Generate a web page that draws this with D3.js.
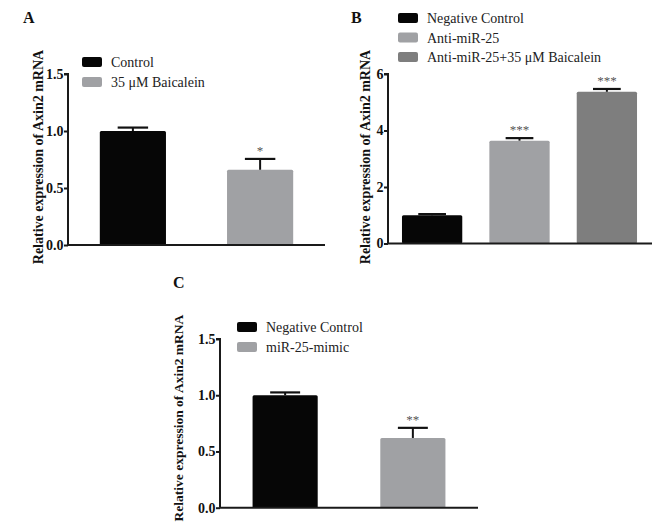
<!DOCTYPE html>
<html>
<head>
<meta charset="utf-8">
<script src="https://cdn.jsdelivr.net/npm/d3@7"></script>
<style>
  html, body { margin: 0; padding: 0; background: #fff; }
  svg { display: block; }
  text { font-family: "Liberation Serif", "Times New Roman", serif; }
</style>
</head>
<body>
<svg id="chart" width="652" height="531"></svg>
<script>
// ---------------- DATA ----------------
const yLabel = "Relative expression of Axin2 mRNA";

const aCategories = ["Control", "35 μM Baicalein"];
const aValues = [1.0, 0.66];
const aErrors = [0.03, 0.095];
const aStars = ["", "*"];
const aTicks = [0, 0.5, 1.0, 1.5];
const aTickLabels = ["0.0", "0.5", "1.0", "1.5"];

const bCategories = ["Negative Control", "Anti-miR-25", "Anti-miR-25+35 μM Baicalein"];
const bValues = [1.0, 3.64, 5.37];
const bErrors = [0.04, 0.09, 0.10];
const bStars = ["", "***", "***"];
const bTicks = [0, 2, 4, 6];
const bTickLabels = ["0", "2", "4", "6"];

const cCategories = ["Negative Control", "miR-25-mimic"];
const cValues = [1.0, 0.62];
const cErrors = [0.025, 0.09];
const cStars = ["", "**"];
const cTicks = [0, 0.5, 1.0, 1.5];
const cTickLabels = ["0.0", "0.5", "1.0", "1.5"];

const colorsA = ["#060606", "#a0a1a4"];
const colorsB = ["#060606", "#a0a1a4", "#7e7e7e"];
const colorsC = ["#060606", "#a0a1a4"];

// ---------------- DRAW ----------------
const svg = d3.select("#chart");
const SERIF = "'Liberation Serif', 'Times New Roman', serif";

function panel(cfg) {
  const g = svg.append("g").attr("font-family", SERIF);
  const x = d3.scaleBand().domain(cfg.categories)
    .range([cfg.x0, cfg.x1]).paddingInner(cfg.pi).paddingOuter(cfg.po);
  const y = d3.scaleLinear().domain(cfg.domain).range([cfg.yb, cfg.yt]);

  // bars
  g.selectAll("rect.bar").data(cfg.categories).enter().append("rect")
    .attr("class", "bar")
    .attr("x", d => x(d))
    .attr("width", x.bandwidth())
    .attr("y", (d, i) => y(cfg.values[i]))
    .attr("height", (d, i) => y(0) - y(cfg.values[i]))
    .attr("rx", 1.5)
    .attr("fill", (d, i) => cfg.colors[i]);

  // error bars (upper only)
  const capW = x.bandwidth() * 0.46;
  cfg.categories.forEach((d, i) => {
    const cx = x(d) + x.bandwidth() / 2;
    const top = y(cfg.values[i] + cfg.errors[i]);
    g.append("line").attr("x1", cx).attr("x2", cx)
      .attr("y1", y(cfg.values[i])).attr("y2", top)
      .attr("stroke", "#111").attr("stroke-width", 2);
    g.append("line").attr("x1", cx - capW / 2).attr("x2", cx + capW / 2)
      .attr("y1", top).attr("y2", top)
      .attr("stroke", "#111").attr("stroke-width", 2.2);
    if (cfg.stars[i]) {
      g.append("text").attr("x", cx).attr("y", top - 4)
        .attr("text-anchor", "middle").attr("font-size", 13)
        .attr("font-family", SERIF)
        .attr("fill", "#555").text(cfg.stars[i]);
    }
  });

  // y axis
  const yAxis = d3.axisLeft(y).tickValues(cfg.ticks)
    .tickFormat((d, i) => cfg.tickLabels[i]).tickSize(4).tickPadding(0.5);
  const ya = g.append("g").attr("transform", `translate(${cfg.x0},0)`).call(yAxis);
  ya.select(".domain").attr("d", `M-4,${cfg.yt}H0V${cfg.yb}`)
    .attr("stroke", "#1a1a1a").attr("stroke-width", 2);
  ya.selectAll(".tick line").attr("stroke", "#1a1a1a").attr("stroke-width", 2);
  ya.attr("font-family", SERIF);
  ya.selectAll(".tick text").attr("font-family", SERIF)
    .attr("font-weight", "bold").attr("font-size", 14).attr("fill", "#111");

  // x axis line
  g.append("line").attr("x1", cfg.x0).attr("x2", cfg.xAxisEnd)
    .attr("y1", y(0)).attr("y2", y(0))
    .attr("stroke", "#1a1a1a").attr("stroke-width", 2);

  // y label
  g.append("text")
    .attr("transform", `translate(${cfg.labelX},${cfg.labelY}) rotate(-90)`)
    .attr("text-anchor", "middle").attr("dy", "0.35em")
    .attr("font-family", SERIF)
    .attr("font-weight", "bold").attr("font-size", cfg.labelSize)
    .attr("fill", "#111").text(yLabel);

  // panel letter
  g.append("text").attr("x", cfg.letterX).attr("y", cfg.letterY)
    .attr("font-family", SERIF)
    .attr("font-weight", "bold").attr("font-size", 16).attr("fill", "#111")
    .text(cfg.letter);

  // legend
  cfg.categories.forEach((d, i) => {
    const ly = cfg.legY + i * cfg.legStep;
    g.append("rect").attr("x", cfg.legX).attr("y", ly - 10)
      .attr("width", 20).attr("height", 10).attr("rx", 2)
      .attr("fill", cfg.colors[i]);
    g.append("text").attr("x", cfg.legX + 29).attr("y", ly)
      .attr("font-family", SERIF)
      .attr("font-size", 14).attr("fill", "#222").text(d);
  });
}

panel({
  categories: aCategories, values: aValues, errors: aErrors, stars: aStars,
  ticks: aTicks, tickLabels: aTickLabels, colors: colorsA,
  domain: [0, 1.5], x0: 68, x1: 325, xAxisEnd: 325, yb: 245, yt: 74,
  pi: 0.48, po: 0.25,
  labelX: 38, labelY: 157, labelSize: 14,
  letter: "A", letterX: 23, letterY: 23,
  legX: 82, legY: 67, legStep: 20
});

panel({
  categories: bCategories, values: bValues, errors: bErrors, stars: bStars,
  ticks: bTicks, tickLabels: bTickLabels, colors: colorsB,
  domain: [0, 6], x0: 388, x1: 651, xAxisEnd: 652, yb: 243.5, yt: 74,
  pi: 0.31, po: 0.16,
  labelX: 365, labelY: 157, labelSize: 14,
  letter: "B", letterX: 351, letterY: 23,
  legX: 398, legY: 23, legStep: 19.5
});

panel({
  categories: cCategories, values: cValues, errors: cErrors, stars: cStars,
  ticks: cTicks, tickLabels: cTickLabels, colors: colorsC,
  domain: [0, 1.5], x0: 220, x1: 478, xAxisEnd: 478, yb: 507.7, yt: 339,
  pi: 0.49, po: 0.255,
  labelX: 178, labelY: 418, labelSize: 13.5,
  letter: "C", letterX: 173, letterY: 288,
  legX: 237, legY: 332, legStep: 20
});
</script>
</body>
</html>
